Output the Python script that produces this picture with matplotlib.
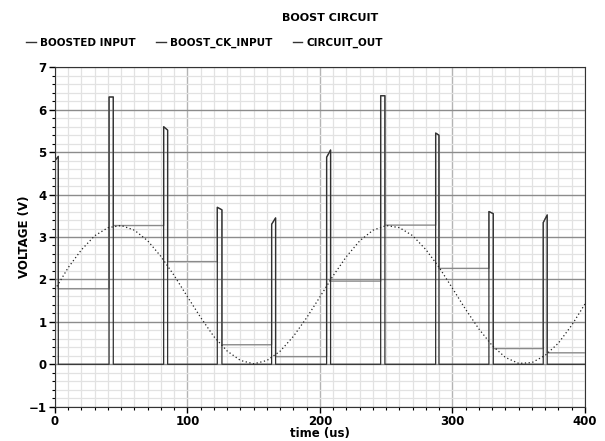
import numpy as np
from matplotlib import pyplot as plt
import matplotlib.ticker as ticker
from matplotlib.lines import Line2D

# sampled sine (CIRCUIT_OUT), read every 10 us
t_out = list(range(0, 401, 10))
v_out = [1.76, 2.28, 2.70, 3.03, 3.22, 3.27, 3.16, 2.91, 2.54, 2.09,
         1.59, 1.10, 0.65, 0.31, 0.09, 0.01, 0.09, 0.31, 0.66, 1.10,
         1.59, 2.09, 2.54, 2.91, 3.16, 3.27, 3.22, 3.03, 2.70, 2.28,
         1.79, 1.29, 0.83, 0.44, 0.16, 0.02, 0.04, 0.21, 0.50, 0.92,
         1.42]

# boost pulses
pulse_start = [0.0, 40.8, 82.0, 122.5, 163.5, 205.0, 245.8, 287.3, 327.5, 368.5]
pulse_end = [2.5, 44.0, 85.0, 126.0, 166.5, 208.0, 249.0, 289.8, 330.8, 371.5]
peak_left = [4.80, 6.30, 5.60, 3.70, 3.30, 4.88, 6.33, 5.45, 3.60, 3.34]
peak_right = [4.90, 6.30, 5.52, 3.64, 3.45, 5.05, 6.33, 5.40, 3.55, 3.52]
hold_val = [1.78, 3.27, 2.42, 0.46, 0.18, 1.96, 3.28, 2.26, 0.37, 0.27]

t_end = 400.0

# build step traces
tb, vb = [], []   # BOOSTED INPUT
tc, vc = [], []   # BOOST_CK_INPUT
for k in range(len(pulse_start)):
    nxt = pulse_start[k + 1] if k + 1 < len(pulse_start) else t_end
    prev = hold_val[k - 1] if k > 0 else 0.0
    tb += [pulse_start[k], pulse_start[k], pulse_end[k], pulse_end[k], nxt]
    vb += [prev, peak_left[k], peak_right[k], hold_val[k], hold_val[k]]
    tc += [pulse_start[k], pulse_start[k], pulse_end[k], pulse_end[k], nxt]
    vc += [0.0, peak_left[k], peak_right[k], 0.0, 0.0]

plt.rcParams['font.family'] = ['DejaVu Sans']

fig = plt.figure(figsize=(6.05, 4.41), dpi=100)
ax = fig.add_axes([0.0909, 0.0778, 0.8760, 0.7696])

ax.plot(tb, vb, color='#8a8a8a', lw=1.0, zorder=3)
ax.plot(tc, vc, color='#303030', lw=0.9, zorder=4)
ax.plot(t_out, v_out, color='#222222', lw=0.9, linestyle=(0, (1, 2)), zorder=5)

ax.set_xlim(0, 400)
ax.set_ylim(-1, 7)
ax.xaxis.set_major_locator(ticker.MultipleLocator(100))
ax.xaxis.set_minor_locator(ticker.MultipleLocator(10))
ax.yaxis.set_major_locator(ticker.MultipleLocator(1))
ax.yaxis.set_minor_locator(ticker.MultipleLocator(0.2))

ax.grid(which='minor', color='#e2e2e2', lw=0.9)
ax.grid(which='major', axis='x', color='#b4b4b4', lw=1.0)
ax.grid(which='major', axis='y', color='#8c8c8c', lw=1.0)
ax.set_axisbelow(True)

ax.tick_params(which='major', length=4, width=1, labelsize=8.5, pad=2)
ax.tick_params(which='minor', length=2, width=0.8)
for lab in ax.get_xticklabels() + ax.get_yticklabels():
    lab.set_fontweight('bold')
for s in ax.spines.values():
    s.set_color('#333333')

ax.set_xlabel('time (us)', fontsize=8.5, fontweight='bold', labelpad=-1)
ax.set_ylabel('VOLTAGE (V)', fontsize=8.5, fontweight='bold', labelpad=-2)

fig.text(0.545, 0.96, 'BOOST CIRCUIT', ha='center', va='center',
         fontsize=8, fontweight='bold')

handles = [Line2D([], [], color='#333333', lw=1) for _ in range(3)]
fig.legend(handles, ['BOOSTED INPUT', 'BOOST_CK_INPUT', 'CIRCUIT_OUT'],
           loc='upper left', bbox_to_anchor=(0.028, 0.935), ncol=3,
           frameon=False, handlelength=0.9, handletextpad=0.4,
           columnspacing=2.0, prop={'size': 7.5, 'weight': 'bold'})

plt.savefig('out.png', dpi=100)
